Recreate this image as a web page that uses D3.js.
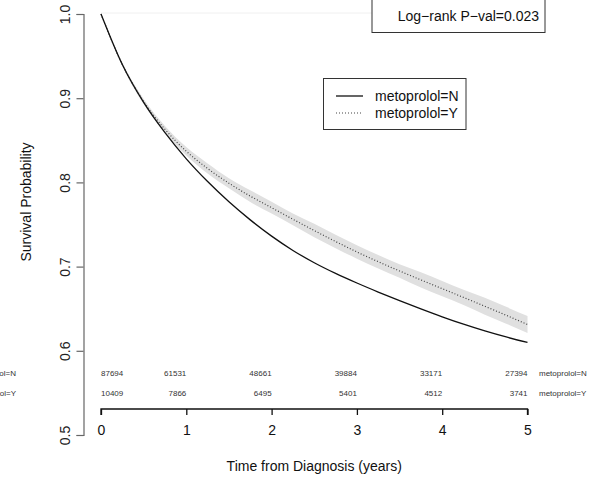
<!DOCTYPE html>
<html>
<head>
<meta charset="utf-8">
<script src="https://cdn.jsdelivr.net/npm/d3@7"></script>
<style>
  html, body { margin: 0; padding: 0; background: #fff; }
  svg { display: block; font-family: "Liberation Sans", Arial, sans-serif; }
</style>
</head>
<body>
<svg id="chart" width="602" height="480"></svg>
<script>
// Kaplan-Meier estimates, sampled every quarter year
const times = [0, 0.25, 0.5, 0.75, 1, 1.25, 1.5, 1.75, 2, 2.25, 2.5, 2.75, 3, 3.25, 3.5, 3.75, 4, 4.25, 4.5, 4.75, 5];
const survN = [1.000, 0.940, 0.895, 0.859, 0.828, 0.801, 0.777, 0.7555, 0.7362, 0.7192, 0.7046, 0.6919, 0.6805, 0.6698, 0.6596, 0.6498, 0.6404, 0.6316, 0.6236, 0.6164, 0.6099];
const survY = [1.000, 0.940, 0.896, 0.863, 0.837, 0.8165, 0.799, 0.7837, 0.770, 0.7562, 0.7428, 0.7298, 0.7174, 0.7058, 0.6948, 0.6842, 0.6738, 0.6634, 0.6529, 0.6422, 0.6312];
const lowerY = [1.000, 0.938, 0.893, 0.859, 0.832, 0.8105, 0.793, 0.7767, 0.763, 0.7492, 0.7348, 0.7218, 0.7094, 0.6978, 0.6868, 0.6752, 0.6648, 0.6544, 0.6429, 0.6322, 0.6212];
const upperY = [1.000, 0.942, 0.899, 0.867, 0.842, 0.8225, 0.805, 0.7907, 0.777, 0.7632, 0.7508, 0.7378, 0.7254, 0.7138, 0.7028, 0.6932, 0.6828, 0.6724, 0.6629, 0.6522, 0.6412];

// Numbers at risk
const riskTimes = [0, 1, 2, 3, 4, 5];
const riskN = [87694, 61531, 48661, 39884, 33171, 27394];
const riskY = [10409, 7866, 6495, 5401, 4512, 3741];
const groupLabels = ["metoprolol=N", "metoprolol=Y"];

const xTicks = [0, 1, 2, 3, 4, 5];
const yTicks = [0.5, 0.6, 0.7, 0.8, 0.9, 1.0];
const pvalText = "Log\u2212rank P\u2212val=0.023";

const svg = d3.select("#chart");
const x = d3.scaleLinear().domain([0, 5]).range([101, 527.5]);
const y = d3.scaleLinear().domain([0.5, 1.0]).range([435, 14]);

// faint reference line at S = 1
svg.append("line")
  .attr("x1", x(0)).attr("x2", x(5))
  .attr("y1", y(1) - 1).attr("y2", y(1) - 1)
  .attr("stroke", "#f0f0f0").attr("stroke-width", 1);

// confidence band for metoprolol=Y
const band = times.map((t, i) => ({ t, lo: lowerY[i], hi: upperY[i] }));
svg.append("path")
  .datum(band)
  .attr("fill", "#e0e0e0")
  .attr("d", d3.area()
    .x(d => x(d.t))
    .y0(d => y(d.lo))
    .y1(d => y(d.hi))
    .curve(d3.curveMonotoneX));

const line = d3.line().x(d => x(d.t)).y(d => y(d.s)).curve(d3.curveMonotoneX);

svg.append("path")
  .datum(times.map((t, i) => ({ t, s: survY[i] })))
  .attr("fill", "none")
  .attr("stroke", "#444")
  .attr("stroke-width", 1.2)
  .attr("stroke-dasharray", "1,2")
  .attr("d", line);

svg.append("path")
  .datum(times.map((t, i) => ({ t, s: survN[i] })))
  .attr("fill", "none")
  .attr("stroke", "#111")
  .attr("stroke-width", 1.3)
  .attr("d", line);

// Y axis (rotated labels, R style)
const yAxis = svg.append("g").attr("transform", "translate(83.5,0)")
  .call(d3.axisLeft(y).tickValues(yTicks).tickSize(7).tickFormat(d3.format(".1f")));
yAxis.select(".domain").attr("stroke", "#666").attr("stroke-width", 1.2);
yAxis.selectAll(".tick line").attr("stroke", "#666").attr("stroke-width", 1.2);
yAxis.selectAll(".tick text")
  .attr("x", null).attr("dy", null)
  .attr("transform", "translate(-14,0) rotate(-90)")
  .attr("text-anchor", "middle")
  .attr("font-size", 14)
  .attr("fill", "#222");

// X axis
const xAxis = svg.append("g").attr("transform", "translate(0,409)")
  .call(d3.axisBottom(x).tickValues(xTicks).tickSize(6).tickFormat(d3.format("d")));
xAxis.select(".domain").attr("stroke", "#111").attr("stroke-width", 1.3)
  .attr("d", `M${x(0)},6V0H${x(5)}V6`);
xAxis.selectAll(".tick line").attr("stroke", "#111").attr("stroke-width", 1.3);
xAxis.selectAll(".tick text")
  .attr("y", 25.5).attr("dy", null)
  .attr("font-size", 14).attr("fill", "#111");

// Axis titles
svg.append("text")
  .attr("x", (x(0) + x(5)) / 2).attr("y", 471)
  .attr("text-anchor", "middle").attr("font-size", 14).attr("fill", "#111")
  .text("Time from Diagnosis (years)");
svg.append("text")
  .attr("transform", "translate(30.5,202) rotate(-90)")
  .attr("text-anchor", "middle").attr("font-size", 14).attr("fill", "#111")
  .text("Survival Probability");

// Numbers-at-risk rows
const riskRows = [riskN, riskY];
const rowY = [375.5, 395.5];
riskRows.forEach((row, r) => {
  svg.append("g").selectAll("text")
    .data(row)
    .join("text")
    .attr("x", (d, i) => x(riskTimes[i]))
    .attr("y", rowY[r])
    .attr("text-anchor", (d, i) => i === 0 ? "start" : "end")
    .attr("font-size", 8).attr("fill", "#333")
    .text(d => d);
  svg.append("text")
    .attr("x", 539).attr("y", rowY[r])
    .attr("font-size", 8).attr("fill", "#333")
    .text(groupLabels[r]);
  svg.append("text")
    .attr("x", 16).attr("y", rowY[r])
    .attr("text-anchor", "end")
    .attr("font-size", 8).attr("fill", "#333")
    .text(groupLabels[r]);
});

// P-value box
svg.append("rect")
  .attr("x", 372).attr("y", -10).attr("width", 173).attr("height", 42.5)
  .attr("fill", "#fff").attr("stroke", "#333").attr("stroke-width", 1);
svg.append("text")
  .attr("x", 539).attr("y", 21).attr("text-anchor", "end")
  .attr("font-size", 14).attr("fill", "#111")
  .text(pvalText);

// Legend
const legend = svg.append("g");
legend.append("rect")
  .attr("x", 323.5).attr("y", 78.5).attr("width", 142.5).attr("height", 51)
  .attr("fill", "#fff").attr("stroke", "#333").attr("stroke-width", 1);
const legendStyles = [
  { stroke: "#111", dash: null, width: 1.3 },
  { stroke: "#444", dash: "1,2", width: 1.2 }
];
groupLabels.forEach((lab, i) => {
  const ly = 96 + i * 17;
  legend.append("line")
    .attr("x1", 336).attr("x2", 363).attr("y1", ly).attr("y2", ly)
    .attr("stroke", legendStyles[i].stroke)
    .attr("stroke-width", legendStyles[i].width)
    .attr("stroke-dasharray", legendStyles[i].dash);
  legend.append("text")
    .attr("x", 375).attr("y", ly + 5)
    .attr("font-size", 14).attr("fill", "#111")
    .text(lab);
});
</script>
</body>
</html>
